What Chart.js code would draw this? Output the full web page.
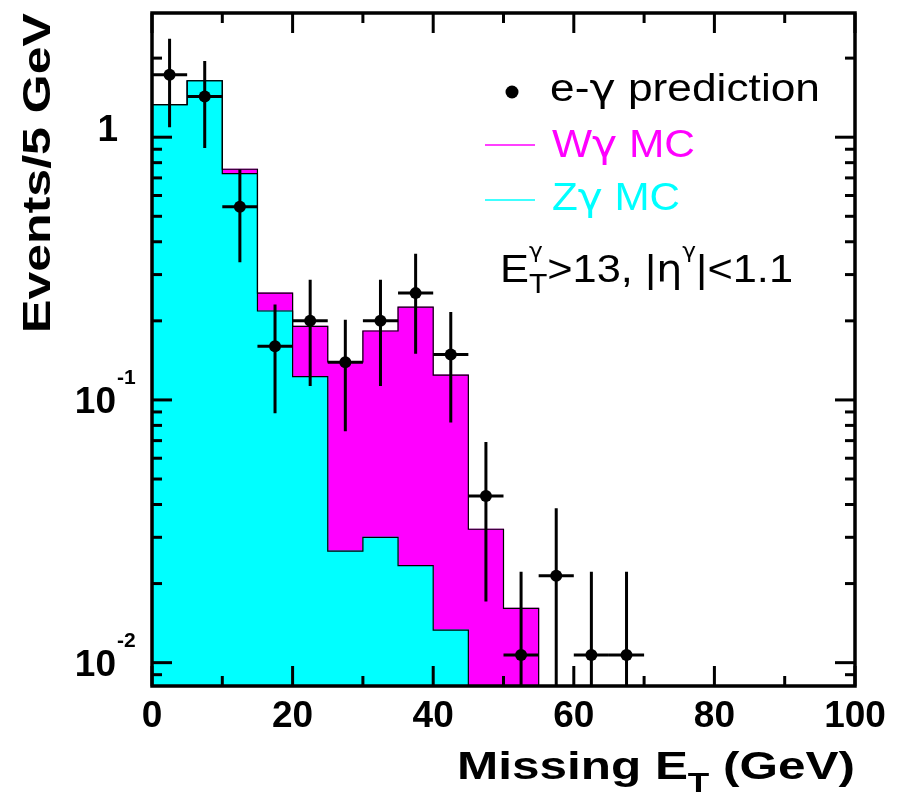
<!DOCTYPE html>
<html>
<head>
<meta charset="utf-8">
<script src="https://cdn.jsdelivr.net/npm/chart.js@4.4.1/dist/chart.umd.min.js"></script>
<style>
  html, body { margin: 0; padding: 0; background: #fff; }
  #wrap { width: 903px; height: 797px; }
</style>
</head>
<body>
<div id="wrap"><canvas id="myChart" width="903" height="797"></canvas></div>
<script>
// 5 GeV bins of missing E_T, bin centres
const binCenters = [2.5, 7.5, 12.5, 17.5, 22.5, 27.5, 32.5, 37.5, 42.5, 47.5, 52.5, 57.5, 62.5, 67.5]
const binWidth = 5
// MC expectations (events / 5 GeV)
const zgMC = [1.33, 1.64, 0.727, 0.218, 0.1227, 0.0266, 0.030, 0.0234, 0.0133]
const wgMC = [0, 0, 0.028, 0.037, 0.068, 0.113, 0.153, 0.202, 0.111, 0.0322, 0.0161]
// e-gamma fake prediction with errors
const egPred = [1.73, 1.43, 0.544, 0.160, 0.200, 0.139, 0.200, 0.255, 0.149, 0.0431, 0.0107, 0.0214, 0.0107, 0.0107]
const egErr = [0.64, 0.52, 0.21, 0.071, 0.087, 0.063, 0.087, 0.105, 0.067, 0.026, 0.0115, 0.0173, 0.0115, 0.0115]
// axis labels
const xTickLabels = [0, 20, 40, 60, 80, 100]
const yTickLabels = [0.01, 0.1, 1]

const MAGENTA = "#ff00ff"
const CYAN = "#00ffff"
const FAMILY = '"Liberation Sans", Arial, Helvetica, sans-serif'
const GREEK = '"DejaVu Sans", "Liberation Sans", sans-serif'

// Wgamma is stacked on top of Zgamma
const wgStack = wgMC.map((w, i) => w + (zgMC[i] || 0))
const toXY = arr => arr.map((v, i) => ({ x: binCenters[i], y: v }))

function fontOf(p) {
  return (p.bold ? "bold " : "") + p.size + "px " + (p.greek ? GREEK : FAMILY)
}

// split a label so greek letters use a font with a proper gamma/eta
function splitGreek(t, size, color) {
  return t.split(/([γη])/).filter(s => s).map(s => ({ t: s, size, color, greek: /[γη]/.test(s) }))
}

// draw a run of text pieces (with sub/superscripts) stretched to a given width
function drawRun(ctx, parts, x, y, width) {
  let natural = 0, kept = 0
  const ws = parts.map(p => {
    ctx.font = fontOf(p)
    return ctx.measureText(p.t).width
  })
  parts.forEach((p, i) => {
    if (p.keep) { kept = ws[i]; return }
    natural += Math.max(ws[i], kept)
    kept = 0
  })
  ctx.save()
  ctx.translate(x, y)
  ctx.scale(width / natural, 1)
  ctx.textAlign = "left"
  ctx.textBaseline = "alphabetic"
  let cx = 0
  kept = 0
  parts.forEach((p, i) => {
    ctx.font = fontOf(p)
    ctx.fillStyle = p.color || "#000"
    ctx.fillText(p.t, cx, p.dy || 0)
    if (p.keep) { kept = ws[i]; return }
    cx += Math.max(ws[i], kept)
    kept = 0
  })
  ctx.restore()
}

function stepOutline(ctx, xs, ys, values) {
  const bottom = ys.bottom
  const yOf = v => (v > 0 ? ys.getPixelForValue(v) : bottom)
  ctx.beginPath()
  ctx.moveTo(xs.getPixelForValue(binCenters[0] - binWidth / 2), bottom)
  values.forEach((v, i) => {
    const lo = xs.getPixelForValue(binCenters[i] - binWidth / 2)
    const hi = xs.getPixelForValue(binCenters[i] + binWidth / 2)
    ctx.lineTo(lo, yOf(v))
    ctx.lineTo(hi, yOf(v))
  })
  const last = binCenters[values.length - 1] + binWidth / 2
  ctx.lineTo(xs.getPixelForValue(last), bottom)
  ctx.stroke()
}

const rootStyle = {
  id: "rootStyle",
  beforeDatasetDraw(chart, args) {
    if (args.index !== 0) return
    const { ctx, chartArea: ca } = chart
    const xs = chart.scales.x, ys = chart.scales.y
    ctx.save()
    ctx.beginPath()
    ctx.rect(ca.left, ca.top, ca.right - ca.left, ca.bottom - ca.top)
    ctx.clip()
    // histogram outlines
    ctx.strokeStyle = "#000"
    ctx.lineWidth = 1.2
    stepOutline(ctx, xs, ys, wgStack)
    stepOutline(ctx, xs, ys, zgMC)
    // error bars
    ctx.lineWidth = 3
    egPred.forEach((v, i) => {
      const px = xs.getPixelForValue(binCenters[i])
      const py = ys.getPixelForValue(v)
      const up = ys.getPixelForValue(v + egErr[i])
      const dn = v - egErr[i] > 0 ? ys.getPixelForValue(v - egErr[i]) : ca.bottom
      ctx.beginPath()
      ctx.moveTo(px, up)
      ctx.lineTo(px, dn)
      ctx.moveTo(xs.getPixelForValue(binCenters[i] - binWidth / 2), py)
      ctx.lineTo(xs.getPixelForValue(binCenters[i] + binWidth / 2), py)
      ctx.stroke()
    })
    ctx.restore()
  },
  afterDraw(chart) {
    const { ctx, chartArea: ca } = chart
    const xs = chart.scales.x, ys = chart.scales.y
    ctx.save()
    ctx.strokeStyle = "#000"
    ctx.lineWidth = 3
    const seg = (a, b, c, d) => { ctx.beginPath(); ctx.moveTo(a, b); ctx.lineTo(c, d); ctx.stroke() }
    // x ticks (bottom and top, pointing in)
    for (let v = 0; v <= 100; v += 10) {
      const px = xs.getPixelForValue(v)
      const len = v % 20 === 0 ? 20 : 10
      seg(px, ca.bottom, px, ca.bottom - len)
      seg(px, ca.top, px, ca.top + len)
    }
    // y ticks (left and right)
    for (let e = -3; e <= 0; e++) {
      for (let k = 1; k <= 9; k++) {
        const v = k * Math.pow(10, e)
        if (v < ys.min || v > ys.max) continue
        const py = ys.getPixelForValue(v)
        const len = k === 1 ? 20 : 10
        seg(ca.left, py, ca.left + len, py)
        seg(ca.right, py, ca.right - len, py)
      }
    }
    ctx.lineWidth = 3.5
    ctx.strokeRect(ca.left, ca.top, ca.right - ca.left, ca.bottom - ca.top)

    // x tick labels
    ctx.fillStyle = "#000"
    ctx.font = "bold 37px " + FAMILY
    ctx.textAlign = "center"
    ctx.textBaseline = "alphabetic"
    xTickLabels.forEach(v => ctx.fillText(String(v), xs.getPixelForValue(v), 727))

    // y tick labels (ROOT style 10^n)
    yTickLabels.forEach(v => {
      const py = ys.getPixelForValue(v)
      const ex = Math.round(Math.log10(v))
      ctx.textAlign = "right"
      ctx.font = "bold 37px " + FAMILY
      if (ex === 0) {
        ctx.fillText("1", 118, py + 4)
      } else {
        ctx.fillText("10", 116, py + 13.5)
        ctx.textAlign = "left"
        ctx.font = "bold 21px " + FAMILY
        ctx.fillText(String(ex), 117, py - 16)
      }
    })

    // axis titles
    drawRun(ctx, [
      { t: "Missing E", size: 38, bold: true },
      { t: "T", size: 27, bold: true, dy: 13 },
      { t: " (GeV)", size: 38, bold: true }
    ], 457, 779, 398)
    ctx.save()
    ctx.translate(50, 333)
    ctx.rotate(-Math.PI / 2)
    drawRun(ctx, [{ t: "Events/5 GeV", size: 38, bold: true }], 0, 0, 320)
    ctx.restore()

    // legend
    const ds = chart.data.datasets
    ctx.fillStyle = "#000"
    ctx.beginPath()
    ctx.arc(512, 92, 6.5, 0, Math.PI * 2)
    ctx.fill()
    drawRun(ctx, splitGreek(ds[0].label, 39), 550, 101, 270)
    ctx.lineWidth = 1.5
    ctx.strokeStyle = MAGENTA
    seg(485, 145, 535, 145)
    drawRun(ctx, splitGreek(ds[2].label, 39, MAGENTA), 552, 157, 143)
    ctx.strokeStyle = CYAN
    seg(485, 200, 535, 200)
    drawRun(ctx, splitGreek(ds[1].label, 39, CYAN), 552, 210, 128)
    drawRun(ctx, [
      { t: "E", size: 39 },
      { t: "T", size: 27, dy: 11, keep: true },
      { t: "γ", size: 21, dy: -24, greek: true },
      { t: ">13, |", size: 39 },
      { t: "η", size: 37, greek: true },
      { t: "γ", size: 21, dy: -24, greek: true },
      { t: "|<1.1", size: 39 }
    ], 500, 282, 293)
    ctx.restore()
  }
}

const chartCtx = document.getElementById("myChart").getContext("2d")
new Chart(chartCtx, {
  type: "bar",
  data: {
    datasets: [
      {
        type: "line",
        label: "e-γ prediction",
        data: toXY(egPred),
        showLine: false,
        pointRadius: 6,
        pointBackgroundColor: "#000",
        pointBorderWidth: 0,
        order: 0
      },
      {
        label: "Zγ MC",
        data: toXY(zgMC),
        backgroundColor: CYAN,
        borderWidth: 0,
        inflateAmount: 0.5,
        barPercentage: 1,
        categoryPercentage: 1,
        grouped: false,
        order: 1
      },
      {
        label: "Wγ MC",
        data: toXY(wgStack),
        backgroundColor: MAGENTA,
        borderWidth: 0,
        inflateAmount: 0.5,
        barPercentage: 1,
        categoryPercentage: 1,
        grouped: false,
        order: 2
      }
    ]
  },
  options: {
    responsive: false,
    animation: false,
    events: [],
    layout: { padding: { left: 152, top: 13, right: 48, bottom: 111 } },
    scales: {
      x: { type: "linear", min: 0, max: 100, offset: false, display: false, ticks: { stepSize: 20 } },
      y: { type: "logarithmic", min: 0.00815, max: 2.97, display: false }
    },
    plugins: { legend: { display: false }, tooltip: { enabled: false } }
  },
  plugins: [rootStyle]
})
</script>
</body>
</html>
